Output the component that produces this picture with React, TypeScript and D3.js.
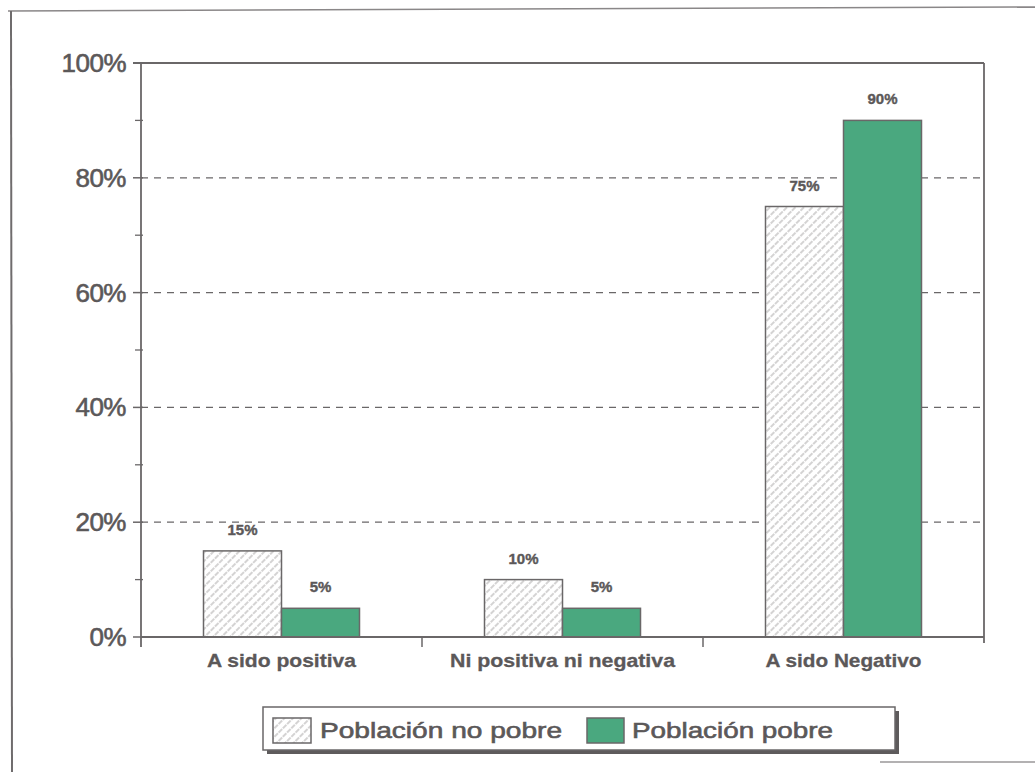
import React from "react";
import * as d3 from "d3";

const categories = ["A sido positiva", "Ni positiva ni negativa", "A sido Negativo"];
const categoryLabelWidths = [149, 225, 156];
const seriesNames = ["Población no pobre", "Población pobre"];
const noPobre = [0.15, 0.1, 0.75];
const pobre = [0.05, 0.05, 0.9];
const valueLabels = [["15%", "10%", "75%"], ["5%", "5%", "90%"]];
const yTicks = [0, 0.2, 0.4, 0.6, 0.8, 1.0];
const yMinor = [0.1, 0.3, 0.5, 0.7, 0.9];

const W = 1035;
const H = 772;
const INK = "#5b5859";
const LINE = "#6a6768";
const GREEN = "#4aa87f";

export default function App() {
  const left = 141, right = 984, top = 63, bottom = 637;
  const x = d3.scaleBand<string>().domain(categories).range([left, right]).padding(0);
  const bw = x.bandwidth();
  const groupW = 156;
  const inner = d3.scaleBand<string>().domain(seriesNames)
    .range([(bw - groupW) / 2, (bw + groupW) / 2]).padding(0);
  const y = d3.scaleLinear().domain([0, 1]).range([bottom, top]);
  const fmt = d3.format(".0%");
  const seriesData = [noPobre, pobre];

  return (
    <svg width={W} height={H} style={{ position: "absolute", left: 0, top: 0, background: "#fff" }}
      fontFamily="'Liberation Sans', Arial, sans-serif">
      <defs>
        <pattern id="hatch" patternUnits="userSpaceOnUse" width={6} height={6} patternTransform="rotate(45)">
          <rect width={6} height={6} fill="#fff" />
          <line x1={1} y1={0} x2={1} y2={6} stroke="#a9a7a8" strokeWidth={1} strokeDasharray="3,1" />
        </pattern>
      </defs>
      <rect width={W} height={H} fill="#fff" />
      {/* outer frame (scanned page) */}
      <line x1={8} y1={11} x2={W} y2={7} stroke="#8a8788" strokeWidth={1.5} />
      <line x1={11} y1={11} x2={12} y2={H} stroke="#6f6c6d" strokeWidth={2} />
      <line x1={880} y1={762} x2={W} y2={762} stroke="#9a9798" strokeWidth={1.5} />

      {/* gridlines */}
      {yTicks.filter(t => t > 0 && t < 1).map(t => (
        <line key={"g" + t} x1={left} x2={right} y1={y(t)} y2={y(t)} stroke={LINE}
          strokeWidth={1.3} strokeDasharray="7,6" />
      ))}

      {/* bars */}
      {categories.map((c, ci) => (
        <g key={c}>
          {seriesNames.map((s, si) => {
            const v = seriesData[si][ci];
            const bx = (x(c) as number) + (inner(s) as number);
            return (
              <g key={s}>
                <rect x={bx} y={y(v)} width={inner.bandwidth()} height={y(0) - y(v)}
                  fill={si === 0 ? "url(#hatch)" : GREEN} stroke={LINE} strokeWidth={1.5} />
                <text x={bx + inner.bandwidth() / 2} y={y(v) - 16} textAnchor="middle"
                  fontSize={15} fontWeight="bold" fill={INK} stroke={INK} strokeWidth={0.4}>
                  {valueLabels[si][ci]}
                </text>
              </g>
            );
          })}
        </g>
      ))}

      {/* plot frame */}
      <line x1={133} x2={right} y1={top} y2={top} stroke={LINE} strokeWidth={1.8} />
      <line x1={right} x2={right} y1={top} y2={bottom + 6} stroke={LINE} strokeWidth={1.8} />
      <line x1={left} x2={left} y1={top} y2={bottom + 10} stroke={LINE} strokeWidth={1.8} />
      <line x1={left} x2={right} y1={bottom} y2={bottom} stroke={LINE} strokeWidth={1.8} />

      {/* y ticks */}
      {yTicks.map(t => (
        <g key={"t" + t}>
          <line x1={133} x2={left + 2} y1={y(t)} y2={y(t)} stroke={LINE} strokeWidth={1.5} />
          <text x={126} y={y(t) + 9} textAnchor="end" fontSize={26} fill={INK}
            stroke={INK} strokeWidth={0.6} letterSpacing={-0.5}>{fmt(t)}</text>
        </g>
      ))}
      {yMinor.map(t => (
        <line key={"m" + t} x1={135} x2={left + 2} y1={y(t)} y2={y(t)} stroke={LINE} strokeWidth={1.3} />
      ))}

      {/* category ticks and labels */}
      {categories.slice(1).map(c => (
        <line key={"ct" + c} x1={x(c) as number} x2={x(c) as number} y1={bottom} y2={bottom + 10}
          stroke={LINE} strokeWidth={1.5} />
      ))}
      {categories.map((c, i) => (
        <text key={"cl" + c} x={(x(c) as number) + bw / 2 - categoryLabelWidths[i] / 2} y={667}
          fontSize={19} fontWeight="bold" fill={INK} stroke={INK} strokeWidth={0.3}
          textLength={categoryLabelWidths[i]} lengthAdjust="spacingAndGlyphs">{c}</text>
      ))}

      {/* legend */}
      <rect x={267} y={711} width={632} height={43} fill="#5e5b5c" />
      <rect x={263} y={707} width={632} height={43} fill="#fff" stroke={LINE} strokeWidth={1.5} />
      <rect x={273} y={718} width={38} height={25} fill="url(#hatch)" stroke={LINE} strokeWidth={1.5} />
      <text x={320} y={738} fontSize={22} fill={INK} stroke={INK} strokeWidth={0.6}
        textLength={242} lengthAdjust="spacingAndGlyphs">
        {seriesNames[0]}
      </text>
      <rect x={587} y={718} width={37} height={25} fill={GREEN} stroke={LINE} strokeWidth={1.5} />
      <text x={632} y={738} fontSize={22} fill={INK} stroke={INK} strokeWidth={0.6}
        textLength={201} lengthAdjust="spacingAndGlyphs">
        {seriesNames[1]}
      </text>
    </svg>
  );
}
